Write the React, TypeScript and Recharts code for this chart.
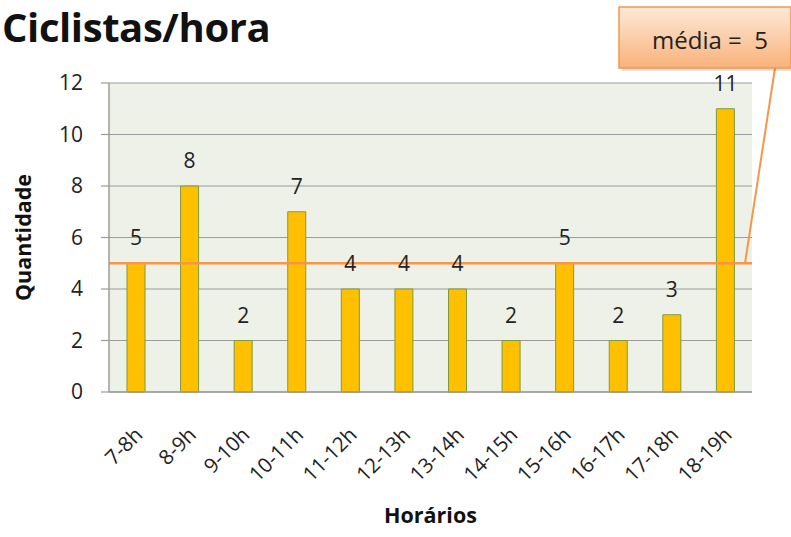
import React from 'react';
import {
  ComposedChart,
  Bar,
  XAxis,
  YAxis,
  CartesianGrid,
  ReferenceLine,
  LabelList,
  Label,
} from 'recharts';

const horarios = ['7-8h', '8-9h', '9-10h', '10-11h', '11-12h', '12-13h', '13-14h', '14-15h', '15-16h', '16-17h', '17-18h', '18-19h'];
const ciclistas = [5, 8, 2, 7, 4, 4, 4, 2, 5, 2, 3, 11];
const yTicks = [0, 2, 4, 6, 8, 10, 12];
const media = 5;

const data = horarios.map((h, i) => ({ horario: h, qtd: ciclistas[i] }));

const FONT = '"Open Sans", sans-serif';

function XTick(props: any) {
  const { x, y, payload } = props;
  const ax = x + 8;
  const ay = y + 36;
  return (
    <text
      x={ax}
      y={ay}
      transform={`rotate(-45, ${ax}, ${ay})`}
      textAnchor="end"
      fontSize={20.5}
      fill="#222"
      fontFamily={FONT}
    >
      {payload.value}
    </text>
  );
}

function MediaCallout(props: any) {
  const { viewBox } = props;
  if (!viewBox) return null;
  const endX = viewBox.x + viewBox.width - 7;
  const y = viewBox.y;
  return (
    <g>
      <defs>
        <linearGradient id="calloutGrad" x1="0" y1="0" x2="0" y2="1">
          <stop offset="0%" stopColor="#fde9d9" />
          <stop offset="100%" stopColor="#f9b27a" />
        </linearGradient>
      </defs>
      <line x1={endX} y1={y} x2={775} y2={68} stroke="#f79646" strokeWidth={2} />
      <rect x={622} y={10} width={172} height={61} fill="#000" opacity={0.12} />
      <rect x={619} y={7} width={172} height={61} fill="url(#calloutGrad)" stroke="#f79646" strokeWidth={1.5} />
      <text x={710} y={49} textAnchor="middle" fontSize={24} fill="#222" fontFamily={FONT} style={{ whiteSpace: 'pre' }}>
        {`média =  ${media}`}
      </text>
    </g>
  );
}

export default function App() {
  return (
    <div style={{ position: 'absolute', left: 0, top: 0, width: 791, height: 537, background: '#fff' }}>
      <ComposedChart
        width={791}
        height={537}
        data={data}
        margin={{ top: 83, right: 39, left: 49, bottom: 10 }}
        barSize={18}
      >
        <CartesianGrid vertical={false} stroke="#9c9c9c" strokeWidth={1.2} fill="#eef1e8" />
        <XAxis
          dataKey="horario"
          interval={0}
          height={135}
          tick={<XTick />}
          tickLine={false}
          axisLine={{ stroke: '#9c9c9c', strokeWidth: 1.5 }}
        >
          <Label
            value="Horários"
            position="insideBottom"
            offset={4}
            style={{ fontFamily: FONT, fontWeight: 700, fontSize: 21.5, fill: '#111' }}
          />
        </XAxis>
        <YAxis
          domain={[0, 12]}
          ticks={yTicks}
          width={60}
          tickSize={8}
          tickMargin={18}
          tick={{ fontSize: 21, fill: '#222', fontFamily: FONT }}
          tickLine={{ stroke: '#9c9c9c', strokeWidth: 1.2 }}
          axisLine={{ stroke: '#9c9c9c', strokeWidth: 1.5 }}
        >
          <Label
            value="Quantidade"
            angle={-90}
            position="insideLeft"
            offset={-26}
            style={{ fontFamily: FONT, fontWeight: 700, fontSize: 21.5, fill: '#111', textAnchor: 'middle' }}
          />
        </YAxis>
        <Bar dataKey="qtd" fill="#ffc000" stroke="#7f9a3a" strokeWidth={1} isAnimationActive={false}>
          <LabelList
            dataKey="qtd"
            position="top"
            offset={18}
            style={{ fontSize: 21, fill: '#222', fontFamily: FONT }}
          />
        </Bar>
        <ReferenceLine y={media} stroke="#f79646" strokeWidth={2.5} label={<MediaCallout />} />
      </ComposedChart>
      <div
        style={{
          position: 'absolute',
          left: 2,
          top: 4,
          zIndex: 2,
          whiteSpace: 'nowrap',
          fontFamily: FONT,
          fontWeight: 700,
          fontSize: 40,
          lineHeight: '46px',
          color: '#111',
          letterSpacing: '-0.4px',
        }}
      >
        Ciclistas/hora
      </div>
    </div>
  );
}
